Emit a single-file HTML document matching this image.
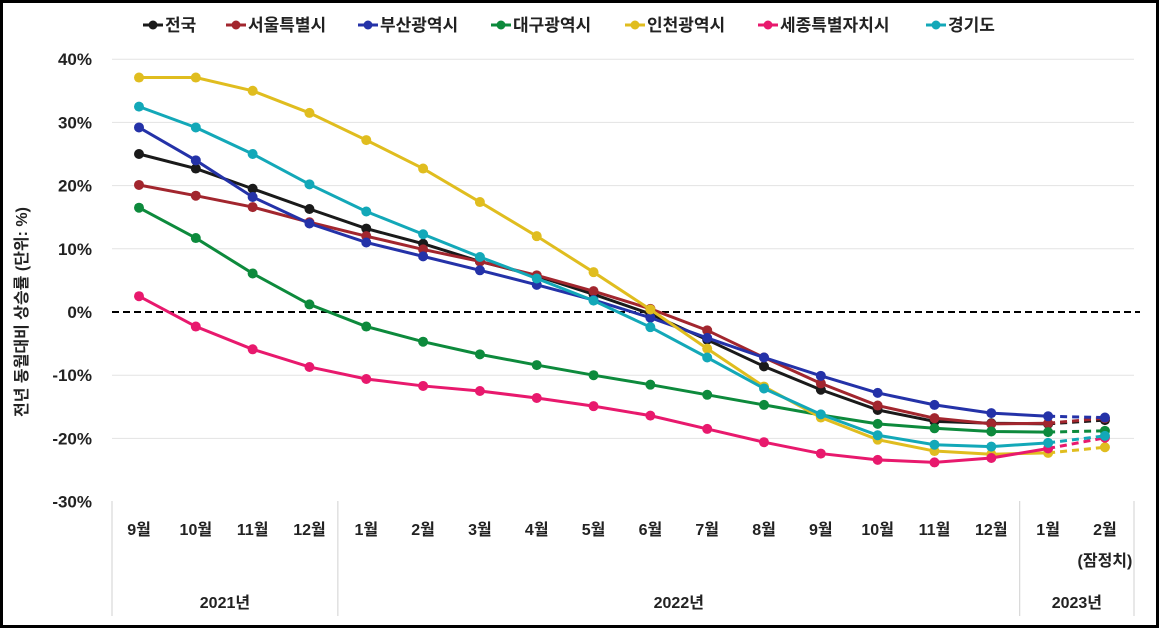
<!DOCTYPE html>
<html><head><meta charset="utf-8"><style>
body{margin:0;background:#fff}
svg{display:block;font-family:"Liberation Sans","Noto Sans CJK KR",sans-serif}
</style></head><body>
<svg id="c" width="1159" height="628"></svg>
<script>
const categories=["9월","10월","11월","12월","1월","2월","3월","4월","5월","6월","7월","8월","9월","10월","11월","12월","1월","2월"];
const seriesNames=["전국","서울특별시","부산광역시","대구광역시","인천광역시","세종특별자치시","경기도"];
const seriesColors=["#1a1a1a","#a2262e","#2432a8","#0d8a3c","#e0bd1f","#e8196d","#13a8b8"];
const vNation=[25.0,22.7,19.5,16.3,13.2,10.8,8.0,5.7,2.8,-0.3,-4.4,-8.6,-12.3,-15.5,-17.3,-17.6,-17.7,-17.1];
const vSeoul=[20.1,18.4,16.6,14.2,12.0,9.9,8.0,5.8,3.3,0.5,-2.9,-7.2,-11.3,-14.8,-16.8,-17.7,-17.6,-16.8];
const vBusan=[29.2,24.0,18.2,14.0,11.0,8.8,6.6,4.3,1.9,-0.9,-4.1,-7.2,-10.1,-12.8,-14.7,-16.0,-16.5,-16.7];
const vDaegu=[16.5,11.7,6.1,1.2,-2.3,-4.7,-6.7,-8.4,-10.0,-11.5,-13.1,-14.7,-16.3,-17.7,-18.4,-18.9,-19.0,-18.8];
const vIncheon=[37.1,37.1,35.0,31.5,27.2,22.7,17.4,12.0,6.3,0.4,-5.8,-11.8,-16.7,-20.2,-22.0,-22.5,-22.3,-21.4];
const vSejong=[2.5,-2.3,-5.9,-8.7,-10.6,-11.7,-12.5,-13.6,-14.9,-16.4,-18.5,-20.6,-22.4,-23.4,-23.8,-23.1,-21.6,-19.9];
const vGyeonggi=[32.5,29.2,25.0,20.2,15.9,12.3,8.7,5.3,1.8,-2.4,-7.2,-12.1,-16.2,-19.5,-21.0,-21.3,-20.7,-19.6];
const yTicks=[40,30,20,10,0,-10,-20,-30];
const yearGroups=[["2021년",0,4],["2022년",4,16],["2023년",16,18]];

const series=[vNation,vSeoul,vBusan,vDaegu,vIncheon,vSejong,vGyeonggi];
const NS="http://www.w3.org/2000/svg";
const svg=document.getElementById("c");
const x=i=>139+i*56.82;
const y=v=>312-v*6.32;
function mk(t,a,p){const e=document.createElementNS(NS,t);for(const k in a)e.setAttribute(k,a[k]);(p||svg).appendChild(e);return e;}
let fr=mk("rect",{x:1.5,y:1.5,width:1156,height:625,fill:"none",stroke:"#000","stroke-width":3});


yTicks.forEach(t=>{
  if(t!==0&&t!==-30){const g=mk("line",{x1:112,x2:1134,y1:y(t),y2:y(t),stroke:"#e3e3e3","stroke-width":1});
  
  }
  const tx=mk("text",{x:92,y:y(t)+6,"text-anchor":"end","font-size":17,"font-weight":"bold",fill:"#222"});
  tx.textContent=t+"%";
  
  
});
const zl=mk("line",{x1:112,x2:1140,y1:y(0),y2:y(0),stroke:"#000","stroke-width":2,"stroke-dasharray":"7,4"});


const yt=mk("text",{transform:"translate(27,312) rotate(-90)","text-anchor":"middle","font-size":16,"font-weight":"bold",fill:"#222"});
yt.textContent="전년 동월대비 상승률 (단위: %)";


categories.forEach((c,i)=>{
  const t=mk("text",{x:x(i),y:535,"text-anchor":"middle","font-size":16,"font-weight":"bold",fill:"#222"});
  t.textContent=c;
  
  
});
const pt=mk("text",{x:x(17),y:566,"text-anchor":"middle","font-size":16,"font-weight":"bold",fill:"#222"});
pt.textContent="(잠정치)";


const seps=[112,x(3.5),x(15.5),1134];
seps.forEach(sx=>{const l=mk("line",{x1:sx,x2:sx,y1:501,y2:616,stroke:"#d0d0d0","stroke-width":1});

});
yearGroups.forEach(g=>{
  const a=g[1]===0?112:x(g[1]-0.5), b=g[2]===18?1134:x(g[2]-0.5);
  const t=mk("text",{x:(a+b)/2,y:608,"text-anchor":"middle","font-size":16,"font-weight":"bold",fill:"#222"});
  t.textContent=g[0];
  
  
});
series.forEach((s,k)=>{
  const col=seriesColors[k];
  const g=mk("g",{});
  
  
  const solid=s.slice(0,17).map((v,i)=>x(i)+","+y(v)).join(" ");
  mk("polyline",{points:solid,fill:"none",stroke:col,"stroke-width":3},g);
  mk("line",{x1:x(16),y1:y(s[16]),x2:x(17),y2:y(s[17]),stroke:col,"stroke-width":3,"stroke-dasharray":"7,5"},g);
  s.forEach((v,i)=>{const c=mk("circle",{cx:x(i),cy:y(v),r:5,fill:col},g);
  
  });
});
const legendX=[143,226,358,491,625,758,926];
seriesNames.forEach((n,k)=>{
  const lx=legendX[k];
  const g=mk("g",{});
  
  
  mk("line",{x1:lx,x2:lx+20,y1:25,y2:25,stroke:seriesColors[k],"stroke-width":3},g);
  mk("circle",{cx:lx+10,cy:25,r:4.5,fill:seriesColors[k]},g);
  const t=mk("text",{x:lx+22,y:31,"font-size":17,"font-weight":"bold",fill:"#222"},g);
  t.textContent=n;
});
</script>
</body></html>
